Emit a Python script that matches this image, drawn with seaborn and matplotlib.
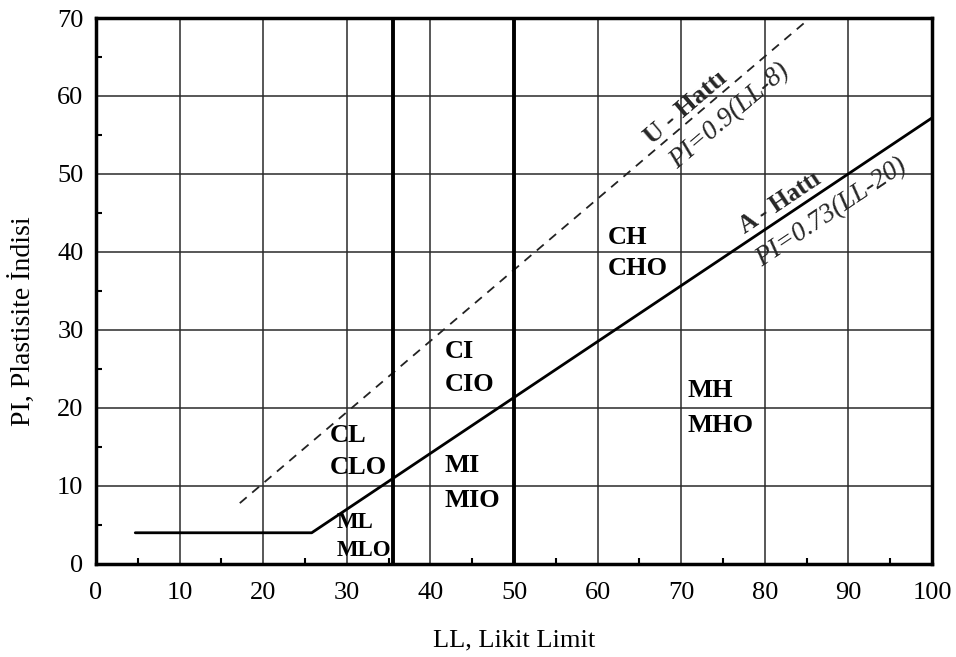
import matplotlib
matplotlib.use("Agg")
import matplotlib.pyplot as plt
import seaborn as sns
import numpy as np

# ---- data ----
a_line_ll = [4.7, 25.8, 100.0]
a_line_pi = [4.0, 4.0, 57.2]
u_line_ll = [17.2, 85.4]
u_line_pi = [7.8, 70.0]
boundary_ll = [35.5, 50.0]

zone_labels = ["CL", "CLO", "ML", "MLO", "CI", "CIO", "MI", "MIO", "CH", "CHO", "MH", "MHO"]
zone_x = [28.0, 28.0, 28.8, 28.8, 41.7, 41.7, 41.7, 41.7, 61.2, 61.2, 70.8, 70.8]
zone_y = [16.5, 12.4, 5.3, 1.7, 27.3, 23.0, 12.6, 8.2, 41.9, 37.9, 22.3, 17.8]
zone_size = [19, 19, 16.5, 16.5, 19, 19, 19, 19, 19, 19, 19, 19]

x_ticks = [0, 10, 20, 30, 40, 50, 60, 70, 80, 90, 100]
y_ticks = [0, 10, 20, 30, 40, 50, 60, 70]

sns.set_theme(style="white")
plt.rcParams['font.family'] = ['Liberation Serif', 'DejaVu Serif']

fig = plt.figure(figsize=(9.56, 6.57), dpi=100)
ax = fig.add_axes([0.1004, 0.1416, 0.975 - 0.1004, 0.9726 - 0.1416])

ax.set_xlim(0, 100)
ax.set_ylim(0, 70)
ax.set_xticks(x_ticks)
ax.set_yticks(y_ticks)
ax.set_xticks(np.arange(5, 100, 10), minor=True)
ax.set_yticks(np.arange(5, 70, 10), minor=True)
ax.grid(True, which='major', color='#2a2a2a', linewidth=1.1)
ax.set_axisbelow(True)

# lines
sns.lineplot(x=a_line_ll, y=a_line_pi, ax=ax, color='black', linewidth=2.0,
             sort=False, estimator=None)
sns.lineplot(x=u_line_ll, y=u_line_pi, ax=ax, color='#222222', linewidth=1.3,
             sort=False, estimator=None, linestyle=(0, (5, 4)))
for b in boundary_ll:
    ax.axvline(b, color='black', linewidth=2.8, zorder=3)

# zone labels
for lab, xx, yy, fs in zip(zone_labels, zone_x, zone_y, zone_size):
    ax.text(xx, yy, lab, fontsize=fs, fontweight='bold', ha='left', va='center',
            color='black', zorder=5)

# line labels
ax.text(70.6, 58.5, "U - Hattı", fontsize=19, fontweight='bold', rotation=40.4,
        ha='center', va='center', rotation_mode='anchor')
ax.text(75.8, 57.4, "PI=0.9(LL-8)", fontsize=19.5, style='italic', rotation=40.4,
        ha='center', va='center', rotation_mode='anchor')
ax.text(81.8, 46.3, "A - Hattı", fontsize=18, fontweight='bold', rotation=33.8,
        ha='center', va='center', rotation_mode='anchor')
ax.text(88.0, 45.0, "PI=0.73(LL-20)", fontsize=19.5, style='italic', rotation=33.8,
        ha='center', va='center', rotation_mode='anchor')

for s in ax.spines.values():
    s.set_visible(True)
    s.set_color('black')
    s.set_linewidth(2.5)

ax.tick_params(axis='both', which='major', length=0, labelsize=19, colors='black')
ax.tick_params(axis='x', which='major', pad=13)
ax.tick_params(axis='y', which='major', pad=9)
ax.tick_params(axis='both', which='minor', direction='in', length=4, width=1.5,
               color='black', bottom=True, left=True, top=False, right=False)

ax.set_xlabel("LL, Likit Limit", fontsize=19, labelpad=18, color='black')
ax.set_ylabel("PI, Plastisite İndisi", fontsize=20, color='black')
ax.yaxis.set_label_coords(-0.071, 0.445)

fig.savefig("out.png", dpi=100)
